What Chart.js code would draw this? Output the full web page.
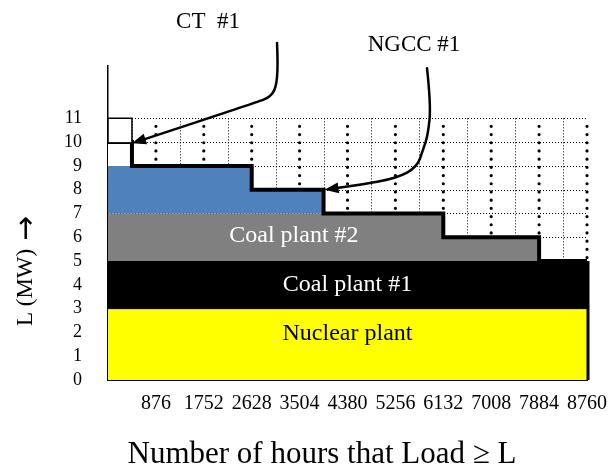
<!DOCTYPE html>
<html>
<head>
<meta charset="utf-8">
<script src="https://cdn.jsdelivr.net/npm/chart.js@4.4.1/dist/chart.umd.min.js"></script>
<style>
  html, body { margin: 0; padding: 0; background: #fff; }
</style>
</head>
<body>
<canvas id="myChart" width="615" height="475"></canvas>
<script>
// hour marks where the load duration curve steps (8760 h = one year)
var hours = [0, 438, 2628, 3942, 6132, 7884, 8760];
// top of each block in MW, value holds until the next hour mark
var nuclearTop = [3, 3, 3, 3, 3, 3, 3];
var coal1Top   = [5, 5, 5, 5, 5, 5, 5];
var coal2Top   = [7, 7, 7, 7, 6, 5, 5];
var ngccTop    = [9, 9, 8, 7, 6, 5, 5];
var loadCurve  = [10, 9, 8, 7, 6, 5, 5];
// empty cell above CT #1
var boxHours = [0, 0, 438, 438];
var boxMW    = [10, 11, 11, 10];

var xTickValues = [876, 1752, 2628, 3504, 4380, 5256, 6132, 7008, 7884, 8760];
var yTickValues = [0, 1, 2, 3, 4, 5, 6, 7, 8, 9, 10, 11];

var serif = "'Liberation Serif', 'Times New Roman', serif";

function pts(xs, ys) {
  return xs.map(function(x, i) { return {x: x, y: ys[i]}; });
}

// dotted grid, drawn under the blocks
var gridPlugin = {
  id: 'dotGrid',
  beforeDatasetsDraw: function(chart) {
    var ctx = chart.ctx, xs = chart.scales.x, ys = chart.scales.y;
    var x0 = xs.getPixelForValue(0), x1 = xs.getPixelForValue(8760);
    var yb = ys.getPixelForValue(0), yt = ys.getPixelForValue(11);
    ctx.save();
    ctx.strokeStyle = '#000';
    // fine dotted horizontals and half-step verticals
    ctx.lineWidth = 1;
    ctx.setLineDash([1, 2]);
    yTickValues.forEach(function(v) {
      if (v == 0) return;
      var y = Math.round(ys.getPixelForValue(v)) + 0.5;
      ctx.beginPath(); ctx.moveTo(x0, y); ctx.lineTo(x1, y); ctx.stroke();
    });
    xTickValues.forEach(function(h) {
      var x = Math.round(xs.getPixelForValue(h - 438)) + 0.5;
      ctx.beginPath(); ctx.moveTo(x, yt); ctx.lineTo(x, yb); ctx.stroke();
    });
    // big dots on the 876 h lines
    ctx.lineWidth = 3.2;
    ctx.lineCap = 'round';
    ctx.setLineDash([0, 8.2]);
    xTickValues.forEach(function(h) {
      var x = xs.getPixelForValue(h);
      ctx.beginPath(); ctx.moveTo(x, yt + 8); ctx.lineTo(x, yb); ctx.stroke();
    });
    ctx.restore();
  },
  afterDatasetsDraw: function(chart) {
    // dark right edge of the stacked blocks
    var ctx = chart.ctx, xs = chart.scales.x, ys = chart.scales.y;
    var last = hours.length - 1;
    var x = xs.getPixelForValue(hours[last]) + 1;
    ctx.save();
    ctx.strokeStyle = '#000';
    ctx.lineWidth = 3;
    ctx.beginPath();
    ctx.moveTo(x, ys.getPixelForValue(0));
    ctx.lineTo(x, ys.getPixelForValue(coal1Top[last]));
    ctx.stroke();
    ctx.restore();
  }
};

// plant labels, arrows and axis titles
var ctArrow = [[3091, 14.17], [3110, 13.2], [3072, 12.27], [2963, 11.9], [2743, 11.69], [440, 9.95]];
var ngccArrow = [[5834, 13.11], [5907, 11.56], [5852, 10.3], [5761, 9.67], [5651, 8.95], [5285, 8.49], [4609, 8.2], [3960, 8.0]];

function drawArrow(chart, path) {
  var ctx = chart.ctx, xs = chart.scales.x, ys = chart.scales.y;
  var p = path.map(function(d) { return [xs.getPixelForValue(d[0]), ys.getPixelForValue(d[1])]; });
  ctx.save();
  ctx.strokeStyle = '#000';
  ctx.fillStyle = '#000';
  ctx.lineWidth = 2.5;
  ctx.lineCap = 'round';
  ctx.beginPath();
  ctx.moveTo(p[0][0], p[0][1]);
  for (var i = 1; i < p.length - 1; i++) {
    var mx = (p[i][0] + p[i + 1][0]) / 2, my = (p[i][1] + p[i + 1][1]) / 2;
    ctx.quadraticCurveTo(p[i][0], p[i][1], mx, my);
  }
  var tip = p[p.length - 1], prev = p[p.length - 2];
  var a = Math.atan2(tip[1] - prev[1], tip[0] - prev[0]);
  var back = 11;
  ctx.lineTo(tip[0] - back * Math.cos(a), tip[1] - back * Math.sin(a));
  ctx.stroke();
  ctx.beginPath();
  ctx.moveTo(tip[0], tip[1]);
  ctx.lineTo(tip[0] - 14 * Math.cos(a) + 5.5 * Math.sin(a), tip[1] - 14 * Math.sin(a) - 5.5 * Math.cos(a));
  ctx.lineTo(tip[0] - 14 * Math.cos(a) - 5.5 * Math.sin(a), tip[1] - 14 * Math.sin(a) + 5.5 * Math.cos(a));
  ctx.closePath();
  ctx.fill();
  ctx.restore();
}

var notesPlugin = {
  id: 'notes',
  afterDraw: function(chart) {
    var ctx = chart.ctx, xs = chart.scales.x, ys = chart.scales.y;
    function text(t, h, v, color, size) {
      ctx.fillStyle = color;
      ctx.font = size + 'px ' + serif;
      ctx.fillText(t, xs.getPixelForValue(h), ys.getPixelForValue(v));
    }
    ctx.save();
    ctx.textAlign = 'center';
    ctx.textBaseline = 'middle';
    text('Coal plant #2', 3400, 6.05, '#fff', 24);
    text('Coal plant #1', 4380, 4.0, '#fff', 24);
    text('Nuclear plant', 4380, 1.95, '#000', 24);
    text('CT  #1', 1830, 15.05, '#000', 23);
    text('NGCC #1', 5596, 14.08, '#000', 23);
    // x axis title
    ctx.fillStyle = '#000';
    ctx.font = '31px ' + serif;
    ctx.fillText('Number of hours that Load \u2265 L', 322, 455);
    // y axis title, arrow in a heavier font
    ctx.translate(26, 271);
    ctx.rotate(-Math.PI / 2);
    ctx.textAlign = 'left';
    ctx.font = '23px ' + serif;
    var part1 = 'L (MW) ';
    var w1 = ctx.measureText(part1).width;
    ctx.font = '30px "DejaVu Sans"';
    var w2 = ctx.measureText('\u2192').width;
    var start = -(w1 + 2 + w2) / 2;
    ctx.font = '23px ' + serif;
    ctx.fillText(part1, start, 0);
    ctx.font = '30px "DejaVu Sans"';
    ctx.fillText('\u2192', start + w1 + 2, 1);
    ctx.restore();
    drawArrow(chart, ctArrow);
    drawArrow(chart, ngccArrow);
  }
};

var ctx = document.getElementById('myChart');
var myChart = new Chart(ctx, {
  type: 'line',
  data: {
    datasets: [
      { label: 'Nuclear plant', data: pts(hours, nuclearTop), stepped: true, fill: 'origin',
        backgroundColor: '#ffff00', borderColor: '#000', borderWidth: 1, pointRadius: 0, order: 5 },
      { label: 'Coal plant #1', data: pts(hours, coal1Top), stepped: true, fill: 0,
        backgroundColor: '#000000', borderColor: '#000', borderWidth: 1, pointRadius: 0, order: 4 },
      { label: 'Coal plant #2', data: pts(hours, coal2Top), stepped: true, fill: 1,
        backgroundColor: '#808080', borderColor: '#808080', borderWidth: 0, pointRadius: 0, order: 3 },
      { label: 'NGCC #1', data: pts(hours, ngccTop), stepped: true, fill: 2,
        backgroundColor: '#4f81bd', borderColor: '#4f81bd', borderWidth: 0, pointRadius: 0, order: 2 },
      { label: 'CT #1', data: pts(hours, loadCurve), stepped: true, fill: 3,
        backgroundColor: '#ffffff', borderColor: '#000', borderWidth: 4, pointRadius: 0, order: 1 },
      { label: 'box', data: pts(boxHours, boxMW), fill: {value: 10},
        backgroundColor: '#ffffff', borderColor: '#000', borderWidth: 1.5, pointRadius: 0, order: 0 }
    ]
  },
  options: {
    responsive: false,
    animation: false,
    layout: { padding: { top: 66, right: 28, left: 0, bottom: 0 } },
    plugins: { legend: { display: false }, tooltip: { enabled: false } },
    scales: {
      x: {
        type: 'linear', min: 0, max: 8760,
        grid: { drawOnChartArea: false, drawTicks: false },
        border: { display: true, color: '#000', width: 1 },
        afterBuildTicks: function(s) { s.ticks = xTickValues.map(function(v) { return {value: v}; }); },
        ticks: { autoSkip: false, maxRotation: 0, padding: 12, color: '#000',
                 font: { family: serif, size: 20 },
                 callback: function(v) { return String(v); } },
        afterFit: function(s) { s.height = 95; s.paddingRight = 0; s.paddingLeft = 0; }
      },
      y: {
        min: 0, max: 13.2,
        grid: { drawOnChartArea: false, drawTicks: false },
        border: { display: true, color: '#000', width: 1.5 },
        afterBuildTicks: function(s) { s.ticks = yTickValues.map(function(v) { return {value: v}; }); },
        ticks: { padding: 26, color: '#000', font: { family: serif, size: 18 } },
        afterFit: function(s) { s.width = 108; s.paddingTop = 0; s.paddingBottom = 0; }
      }
    }
  },
  plugins: [gridPlugin, notesPlugin]
});
</script>
</body>
</html>
